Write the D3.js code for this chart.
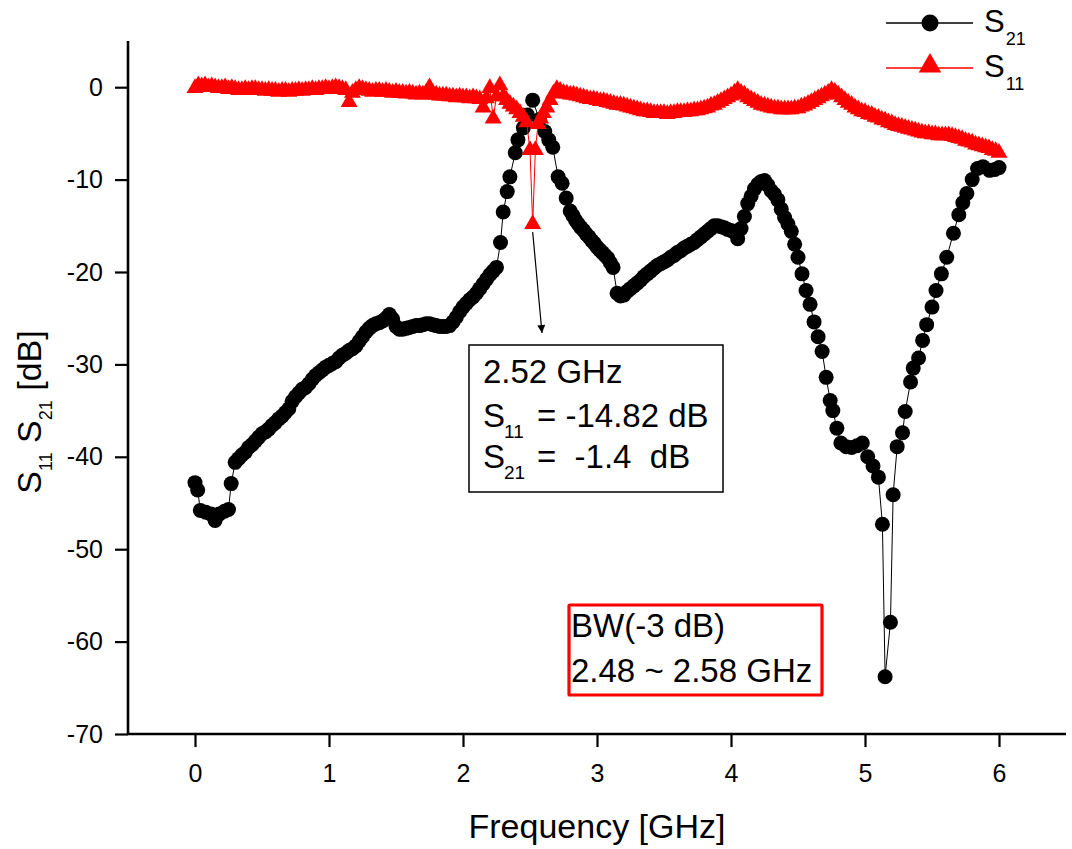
<!DOCTYPE html>
<html><head><meta charset="utf-8">
<script src="https://cdn.jsdelivr.net/npm/d3@7/dist/d3.min.js"></script>
<style>
body{margin:0;background:#fff}
svg{display:block}
text{font-family:"Liberation Sans", Arial, sans-serif;fill:#000}
</style>
</head><body>
<svg id="c" width="1072" height="849"></svg>
<script>
// ---------- data ----------
const s21Freq = [0.00,0.02,0.04,0.08,0.12,0.15,0.18,0.22,0.25,
0.27,0.30,0.325,0.35,0.375,0.40,0.425,0.45,0.475,0.50,0.525,0.55,0.575,0.60,0.625,0.65,0.675,0.70,0.725,0.75,0.775,0.80,0.825,0.85,0.875,0.90,0.925,0.95,0.975,
1.00,1.025,1.05,1.075,1.10,1.125,1.15,1.175,1.20,1.225,1.25,1.275,1.30,1.325,1.35,1.375,1.40,1.425,1.45,1.475,1.50,1.525,1.55,1.575,1.60,1.625,1.65,1.675,1.70,1.725,1.75,1.775,1.80,1.825,1.85,1.875,1.90,1.925,1.95,1.975,
2.00,2.025,2.05,2.075,2.10,2.125,2.15,2.175,2.20,2.225,2.25,2.28,2.30,2.33,2.35,2.39,2.41,2.45,2.48,2.52,2.57,2.61,2.64,2.67,2.71,2.74,2.77,2.80,2.82,2.84,2.86,2.88,2.90,2.92,2.94,2.96,2.98,
3.00,3.02,3.04,3.06,3.08,3.10,3.12,3.15,3.175,3.20,3.225,3.25,3.275,3.30,3.325,3.35,3.375,3.40,3.425,3.45,3.475,3.50,3.525,3.55,3.575,3.60,3.625,3.65,3.675,3.70,3.725,3.75,3.775,3.80,3.825,3.85,3.875,3.90,3.925,3.95,3.975,
4.00,4.025,4.05,4.075,4.10,4.125,4.15,4.175,4.20,4.225,4.25,4.275,4.30,4.325,4.35,4.375,4.40,4.425,4.45,4.475,4.50,4.53,4.56,4.59,4.62,4.65,4.68,4.71,4.74,4.76,4.79,4.82,4.86,4.90,4.94,4.98,
5.02,5.06,5.10,5.13,5.15,5.19,5.21,5.24,5.28,5.30,5.34,5.36,5.40,5.43,5.46,5.50,5.53,5.57,5.61,5.66,5.70,5.73,5.76,5.80,5.84,5.88,5.93,5.97,6.00];
const s21Val = [-42.8,-43.6,-45.8,-46.0,-46.2,-46.9,-46.2,-45.9,-45.7,
-42.9,-40.6,-40.2,-39.8,-39.5,-39.0,-38.7,-38.3,-37.9,-37.5,-37.3,-37.0,-36.6,-36.3,-35.9,-35.6,-35.2,-34.8,-34.0,-33.5,-33.1,-32.7,-32.5,-32.1,-31.6,-31.2,-30.9,-30.6,-30.3,
-30.1,-29.9,-29.7,-29.3,-29.0,-28.8,-28.5,-28.3,-28.0,-27.5,-27.0,-26.5,-26.1,-25.8,-25.6,-25.5,-25.3,-25.0,-24.6,-25.1,-25.9,-26.2,-26.2,-26.1,-26.0,-25.9,-25.8,-25.8,-25.7,-25.6,-25.6,-25.7,-25.8,-25.9,-25.9,-25.9,-25.8,-25.4,-24.9,-24.3,
-23.8,-23.4,-23.0,-22.7,-22.3,-21.8,-21.3,-20.8,-20.3,-19.9,-19.5,-16.8,-13.5,-11.3,-9.7,-7.1,-5.7,-4.4,-3.0,-1.4,-3.5,-4.8,-5.7,-6.5,-9.7,-10.4,-12.0,-13.4,-13.9,-14.4,-14.8,-15.2,-15.5,-15.9,-16.2,-16.6,-16.9,
-17.3,-17.6,-17.9,-18.2,-18.5,-19.0,-19.5,-22.3,-22.6,-22.5,-22.1,-21.8,-21.5,-21.2,-20.9,-20.5,-20.2,-19.9,-19.6,-19.3,-19.1,-18.9,-18.7,-18.4,-18.2,-17.9,-17.7,-17.4,-17.2,-17.0,-16.8,-16.5,-16.2,-15.9,-15.6,-15.3,-15.0,-15.0,-15.1,-15.2,-15.4,
-15.5,-15.7,-16.4,-15.3,-14.0,-12.6,-11.8,-11.0,-10.5,-10.2,-10.1,-10.6,-11.2,-11.6,-12.2,-13.2,-14.1,-14.8,-15.6,-17.0,-18.4,-20.2,-22.0,-23.5,-25.4,-27.0,-28.6,-31.4,-33.9,-35.0,-36.9,-38.5,-38.9,-39.0,-38.8,-38.5,
-40.0,-41.0,-42.2,-47.3,-63.8,-57.9,-44.1,-38.9,-37.4,-35.1,-31.9,-30.4,-29.3,-27.4,-25.7,-23.8,-22.0,-20.2,-18.4,-15.8,-13.8,-12.5,-11.5,-10.0,-8.8,-8.6,-9.0,-8.9,-8.7];

const s11Freq = [0.000,0.025,0.050,0.075,0.100,0.125,0.150,0.175,0.200,0.225,0.250,0.275,0.300,0.325,0.350,0.375,0.400,0.425,0.450,0.475,0.500,0.525,0.550,0.575,0.600,0.625,0.650,0.675,0.700,0.725,0.750,0.775,0.800,0.825,0.850,0.875,0.900,0.925,0.950,0.975,
1.000,1.025,1.050,1.075,1.100,1.125,1.150,1.175,1.200,1.225,1.250,1.275,1.300,1.325,1.350,1.375,1.400,1.425,1.450,1.475,1.500,1.525,1.550,1.575,1.600,1.625,1.650,1.675,1.700,1.725,1.750,1.775,1.800,1.825,1.850,1.875,1.900,1.925,1.950,1.975,
2.000,2.025,2.050,2.075,2.100,2.125,2.150,2.175,2.200,2.225,2.250,2.275,2.300,2.325,2.350,2.375,2.400,2.425,2.450,2.475,2.500,2.520,2.540,2.560,2.580,2.600,2.625,2.650,2.675,2.700,2.725,2.750,2.775,2.800,2.825,2.850,2.875,2.900,2.925,2.950,2.975,
3.000,3.025,3.050,3.075,3.100,3.125,3.150,3.175,3.200,3.225,3.250,3.275,3.300,3.325,3.350,3.375,3.400,3.425,3.450,3.475,3.500,3.525,3.550,3.575,3.600,3.625,3.650,3.675,3.700,3.725,3.750,3.775,3.800,3.825,3.850,3.875,3.900,3.925,3.950,3.975,
4.000,4.025,4.050,4.075,4.100,4.125,4.150,4.175,4.200,4.225,4.250,4.275,4.300,4.325,4.350,4.375,4.400,4.425,4.450,4.475,4.500,4.525,4.550,4.575,4.600,4.625,4.650,4.675,4.700,4.725,4.750,4.775,4.800,4.825,4.850,4.875,4.900,4.925,4.950,4.975,
5.000,5.025,5.050,5.075,5.100,5.125,5.150,5.175,5.200,5.225,5.250,5.275,5.300,5.325,5.350,5.375,5.400,5.425,5.450,5.475,5.500,5.525,5.550,5.575,5.600,5.625,5.650,5.675,5.700,5.725,5.750,5.775,5.800,5.825,5.850,5.875,5.900,5.925,5.950,5.975,6.000];
const s11Val = [-0.1,0.2,0.1,0.2,0.0,0.1,0.0,-0.1,-0.1,0.0,-0.2,-0.1,-0.2,-0.3,-0.3,-0.2,-0.3,-0.2,-0.2,-0.3,-0.3,-0.4,-0.3,-0.4,-0.4,-0.5,-0.4,-0.4,-0.5,-0.4,-0.4,-0.3,-0.4,-0.3,-0.3,-0.2,-0.3,-0.2,-0.2,-0.1,
-0.2,-0.1,0.0,-0.1,-0.2,-0.3,-1.6,-0.6,-0.3,-0.1,-0.2,-0.3,-0.4,-0.5,-0.4,-0.4,-0.5,-0.4,-0.5,-0.6,-0.5,-0.6,-0.6,-0.7,-0.6,-0.7,-0.8,-0.7,-0.8,-0.6,0.0,-0.8,-0.8,-0.9,-0.9,-0.9,-1.0,-1.0,-1.1,-1.0,
-1.1,-1.1,-1.2,-1.1,-1.2,-1.3,-2.2,-1.2,-0.1,-3.4,-1.0,0.2,-1.0,-1.4,-1.8,-2.1,-2.4,-2.8,-3.2,-3.8,-6.8,-14.82,-6.8,-4.0,-3.4,-2.8,-2.2,-1.4,-0.7,-0.2,-0.4,-0.6,-0.7,-0.8,-0.8,-0.9,-1.0,-1.1,-1.2,-1.3,-1.3,
-1.4,-1.5,-1.5,-1.6,-1.7,-1.8,-1.9,-1.9,-2.0,-2.1,-2.2,-2.3,-2.4,-2.5,-2.6,-2.6,-2.7,-2.8,-2.8,-2.8,-2.8,-2.9,-2.8,-2.8,-2.7,-2.7,-2.7,-2.6,-2.6,-2.5,-2.5,-2.4,-2.3,-2.2,-2.0,-1.9,-1.7,-1.5,-1.3,-1.1,
-0.9,-0.6,-0.3,-0.6,-0.8,-1.1,-1.3,-1.5,-1.7,-1.9,-2.0,-2.1,-2.2,-2.3,-2.3,-2.4,-2.4,-2.4,-2.4,-2.3,-2.3,-2.1,-2.0,-1.8,-1.6,-1.4,-1.2,-1.0,-0.8,-0.6,-0.3,-0.5,-0.8,-1.1,-1.4,-1.7,-1.9,-2.2,-2.4,-2.6,
-2.7,-2.9,-3.0,-3.2,-3.3,-3.5,-3.6,-3.8,-3.9,-4.1,-4.2,-4.3,-4.4,-4.5,-4.6,-4.7,-4.8,-4.9,-5.0,-5.0,-5.1,-5.1,-5.2,-5.2,-5.2,-5.2,-5.3,-5.4,-5.5,-5.6,-5.8,-5.9,-6.0,-6.2,-6.3,-6.4,-6.5,-6.6,-6.8,-6.9,-7.1];

const xMajor = [0,1,2,3,4,5,6];
const xMinor = [-0.5,0.5,1.5,2.5,3.5,4.5,5.5,6.5];
const yMajor = [0,-10,-20,-30,-40,-50,-60,-70];
const yMinor = [5,-5,-15,-25,-35,-45,-55,-65];
const seriesNames = ["S", "S"];
const seriesSubs = ["21", "11"];

// ---------- scales ----------
const svg = d3.select("#c");
const x = d3.scaleLinear().domain([-0.5, 6.5]).range([128, 1066]);
const y = d3.scaleLinear().domain([-70, 5]).range([734, 41]);
const fmt = d => String(d);

// ---------- axes ----------
const gx = svg.append("g").attr("transform", "translate(0,734)");
gx.call(d3.axisBottom(x).tickValues(xMinor).tickSize(7).tickFormat(""));
gx.call(d3.axisBottom(x).tickValues(xMajor).tickSize(13).tickPadding(17).tickFormat(fmt));
const gy = svg.append("g").attr("transform", "translate(128,0)");
gy.call(d3.axisLeft(y).tickValues(yMinor).tickSize(7).tickFormat(""));
gy.call(d3.axisLeft(y).tickValues(yMajor).tickSize(13).tickPadding(12).tickFormat(fmt));
svg.selectAll(".domain").attr("stroke", "#000").attr("stroke-width", 2.6);
svg.selectAll(".tick line").attr("stroke", "#000").attr("stroke-width", 2.2);
svg.selectAll(".tick text").attr("font-size", 25).attr("font-family", "Liberation Sans, Arial, sans-serif").attr("fill", "#222");
gx.selectAll(".domain").attr("d", "M128,0H1066");
gy.selectAll(".domain").attr("d", "M0,734V41");

// axis titles
svg.append("text").attr("x", 597).attr("y", 838).attr("text-anchor", "middle")
  .attr("font-size", 34).text("Frequency [GHz]");
const yl = svg.append("text").attr("transform", "translate(41,412) rotate(-90)")
  .attr("text-anchor", "middle").attr("font-size", 34);
yl.append("tspan").text("S");
yl.append("tspan").attr("font-size", 18).attr("dy", 11).text("11");
yl.append("tspan").attr("dy", -11).text(" S");
yl.append("tspan").attr("font-size", 18).attr("dy", 11).text("21");
yl.append("tspan").attr("dy", -11).text(" [dB]");

// ---------- series ----------
const s21 = s21Freq.map((f, i) => [f, s21Val[i]]);
const s11 = s11Freq.map((f, i) => [f, s11Val[i]]);
const line = d3.line().x(d => x(d[0])).y(d => y(d[1]));

svg.append("path").datum(s21).attr("d", line).attr("fill", "none").attr("stroke", "#000").attr("stroke-width", 1);
svg.append("g").selectAll("circle").data(s21).join("circle")
  .attr("cx", d => x(d[0])).attr("cy", d => y(d[1])).attr("r", 7.5).attr("fill", "#000");

svg.append("path").datum(s11).attr("d", line).attr("fill", "none").attr("stroke", "#f00").attr("stroke-width", 1);
const tri = d3.symbol().type(d3.symbolTriangle).size(125);
svg.append("g").selectAll("path").data(s11).join("path")
  .attr("transform", d => `translate(${x(d[0])},${y(d[1])})`).attr("d", tri).attr("fill", "#f00");

// ---------- legend ----------
const lg = svg.append("g");
lg.append("line").attr("x1", 886).attr("x2", 973).attr("y1", 23).attr("y2", 23).attr("stroke", "#000").attr("stroke-width", 1.5);
lg.append("circle").attr("cx", 930).attr("cy", 23).attr("r", 8.5).attr("fill", "#000");
lg.append("line").attr("x1", 886).attr("x2", 973).attr("y1", 68).attr("y2", 68).attr("stroke", "#f00").attr("stroke-width", 1.5);
lg.append("path").attr("transform", "translate(930,66)").attr("d", d3.symbol().type(d3.symbolTriangle).size(220)).attr("fill", "#f00");
[[32, 0], [77, 1]].forEach(([by, i]) => {
  const t = lg.append("text").attr("x", 984).attr("y", by).attr("font-size", 31);
  t.append("tspan").text(seriesNames[i]);
  t.append("tspan").attr("font-size", 18).attr("dy", 13).attr("dx", 1).text(seriesSubs[i]);
});

// ---------- annotation arrow ----------
svg.append("defs").append("marker").attr("id", "ah").attr("viewBox", "0 0 10 10")
  .attr("refX", 10).attr("refY", 5).attr("markerWidth", 14).attr("markerHeight", 8)
  .attr("markerUnits", "userSpaceOnUse").attr("orient", "auto")
  .append("path").attr("d", "M0,0L10,5L0,10z").attr("fill", "#000");
svg.append("line").attr("x1", x(2.52)).attr("y1", y(-14.82) + 8)
  .attr("x2", 542).attr("y2", 333)
  .attr("stroke", "#000").attr("stroke-width", 1.2).attr("marker-end", "url(#ah)");

// info box
svg.append("rect").attr("x", 469).attr("y", 345).attr("width", 254).attr("height", 147)
  .attr("fill", "#fff").attr("stroke", "#000").attr("stroke-width", 1.5);
svg.append("text").attr("x", 483).attr("y", 383).attr("font-size", 33).text("2.52 GHz");
[[427, "11", "= -14.82 dB"], [468, "21", "=  -1.4  dB"]].forEach(([by, sub, rest]) => {
  const t = svg.append("text").attr("x", 483).attr("y", by).attr("font-size", 33).attr("xml:space", "preserve");
  t.append("tspan").text("S");
  t.append("tspan").attr("font-size", 19).attr("dy", 11).attr("x", 504).text(sub);
  t.append("tspan").attr("dy", -11).attr("x", 537).text(rest);
});

// BW box
svg.append("rect").attr("x", 569).attr("y", 605).attr("width", 253).attr("height", 90)
  .attr("fill", "none").attr("stroke", "#f00").attr("stroke-width", 3.2).attr("rx", 1);
svg.append("text").attr("x", 571).attr("y", 637).attr("font-size", 33).text("BW(-3 dB)");
svg.append("text").attr("x", 571).attr("y", 682).attr("font-size", 33).text("2.48 ~ 2.58 GHz");
</script>
</body></html>
